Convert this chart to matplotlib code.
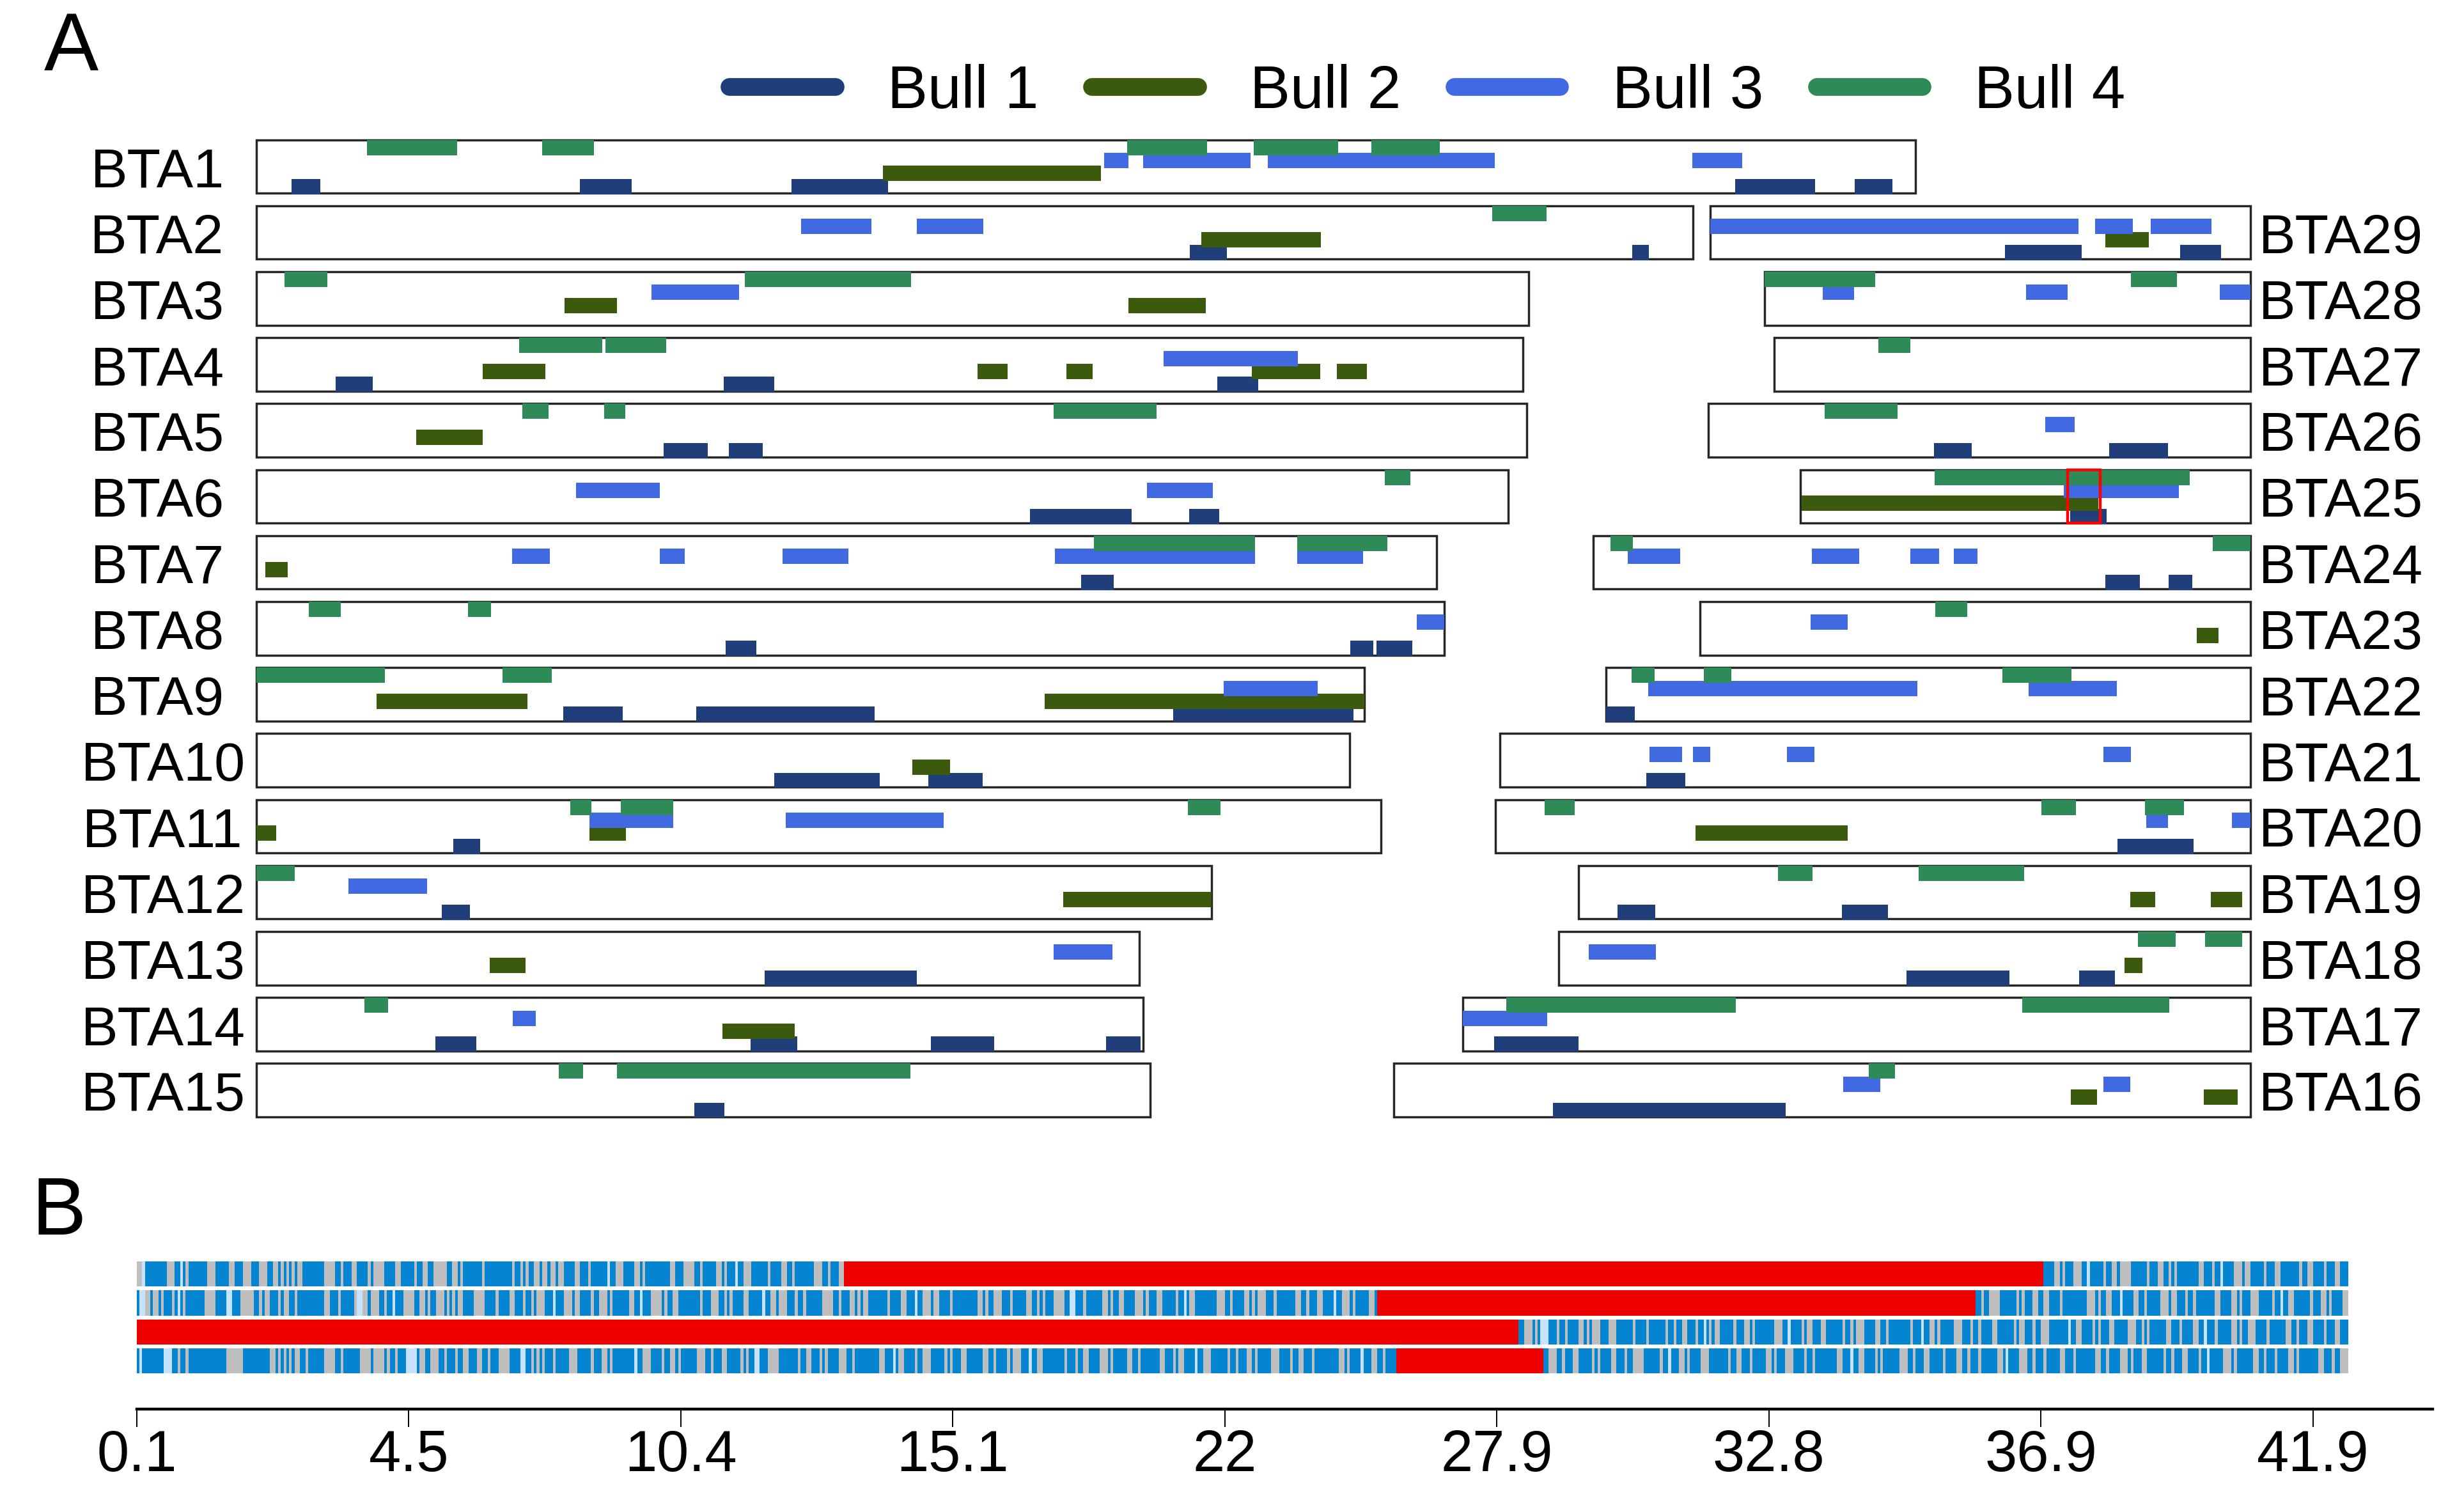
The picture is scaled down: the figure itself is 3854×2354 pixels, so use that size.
import re
import matplotlib
matplotlib.use('Agg')
import matplotlib.pyplot as plt
from matplotlib.lines import Line2D
from matplotlib.transforms import blended_transform_factory

plt.rcParams['font.family'] = ['Liberation Sans', 'DejaVu Sans']

# ---------------- data: panel A ----------------
chrom_names = [f'BTA{i}' for i in range(1, 30)]
chrom_lengths = [158.3, 137.06, 121.43, 120.83, 121.19, 119.46, 112.64, 113.38, 105.71,
                 104.31, 107.31, 91.16, 84.24, 84.65, 85.30, 81.72, 75.16, 66.00, 64.06,
                 72.04, 71.60, 61.44, 52.53, 62.71, 42.90, 51.68, 45.41, 46.31, 51.51]

bull_names = ['Bull 1', 'Bull 2', 'Bull 3', 'Bull 4']
bull_colors = ['#203f7a', '#3b5a0e', '#4169e1', '#2e8b57']

bull1_segments = {
    1: [(3.4, 6.1), (30.9, 35.8), (51.1, 60.3), (141.1, 148.7), (152.5, 156.1)],
    2: [(89.1, 92.6), (131.3, 132.9)],
    4: [(7.6, 11.1), (44.6, 49.4), (91.7, 95.6)],
    5: [(38.9, 43.1), (45.1, 48.3)],
    6: [(73.8, 83.5), (89.0, 91.9)],
    7: [(78.7, 81.8)],
    8: [(44.8, 47.7), (104.4, 106.6), (106.9, 110.3)],
    9: [(29.3, 35.0), (42.0, 59.0), (87.5, 104.7)],
    10: [(49.4, 59.5), (64.1, 69.3)],
    11: [(18.8, 21.4)],
    12: [(17.7, 20.4)],
    13: [(48.5, 63.0)],
    14: [(17.1, 21.0), (47.2, 51.6), (64.4, 70.4), (81.1, 84.4)],
    15: [(41.8, 44.7)],
    16: [(15.2, 37.4)],
    17: [(3.0, 11.1)],
    18: [(33.2, 43.0), (49.7, 53.1)],
    19: [(3.7, 7.3), (25.1, 29.5)],
    20: [(59.4, 66.6)],
    21: [(14.0, 17.7)],
    22: [(0.0, 2.7)],
    24: [(48.9, 52.2), (54.9, 57.2)],
    25: [(25.7, 29.2)],
    26: [(21.5, 25.1), (38.2, 43.8)],
    29: [(28.1, 35.4), (44.8, 48.7)],
}
bull2_segments = {
    1: [(59.8, 80.6)],
    2: [(90.2, 101.6)],
    3: [(29.4, 34.4), (83.2, 90.6)],
    4: [(21.6, 27.6), (68.8, 71.7), (77.3, 79.8), (95.0, 101.5), (103.1, 106.0)],
    5: [(15.3, 21.6)],
    7: [(0.9, 3.0)],
    9: [(11.5, 25.9), (75.2, 105.7)],
    10: [(62.6, 66.2)],
    11: [(0.0, 1.9), (31.8, 35.3)],
    12: [(77.0, 91.16)],
    13: [(22.3, 25.7)],
    14: [(44.5, 51.4)],
    16: [(64.6, 67.1), (77.3, 80.5)],
    18: [(54.0, 55.7)],
    19: [(52.6, 55.0), (60.3, 63.3)],
    20: [(19.1, 33.6)],
    23: [(47.4, 49.5)],
    25: [(0.1, 28.4)],
    29: [(37.7, 41.8)],
}
bull3_segments = {
    1: [(80.9, 83.2), (84.6, 94.9), (96.5, 118.2), (137.0, 141.8)],
    2: [(52.0, 58.7), (63.0, 69.4)],
    3: [(37.7, 46.1)],
    4: [(86.6, 99.4)],
    6: [(30.5, 38.5), (85.0, 91.3)],
    7: [(24.4, 28.0), (38.5, 40.9), (50.2, 56.5), (76.2, 95.3), (99.3, 105.6)],
    8: [(110.7, 113.38)],
    9: [(92.3, 101.3)],
    11: [(31.8, 39.8), (50.5, 65.6)],
    12: [(8.8, 16.3)],
    13: [(76.1, 81.7)],
    14: [(24.5, 26.7)],
    16: [(42.9, 46.4), (67.7, 70.3)],
    17: [(0.0, 8.1)],
    18: [(2.9, 9.3)],
    20: [(62.1, 64.2), (70.3, 72.04)],
    21: [(14.3, 17.4), (18.4, 20.1), (27.4, 30.0), (57.6, 60.2)],
    22: [(4.0, 29.7), (40.3, 48.7)],
    23: [(10.6, 14.1)],
    24: [(3.3, 8.3), (20.9, 25.4), (30.3, 33.0), (34.4, 36.7)],
    25: [(25.1, 36.1)],
    26: [(32.1, 34.9)],
    28: [(5.5, 8.5), (24.9, 28.9), (43.4, 46.31)],
    29: [(0.0, 35.1), (36.7, 40.3), (42.0, 47.8)],
}
bull4_segments = {
    1: [(10.6, 19.2), (27.3, 32.2), (83.1, 90.7), (95.2, 103.2), (106.4, 112.9)],
    2: [(117.9, 123.1)],
    3: [(2.7, 6.8), (46.6, 62.5)],
    4: [(25.1, 33.0), (33.3, 39.1)],
    5: [(25.4, 27.9), (33.2, 35.2), (76.1, 85.9)],
    6: [(107.7, 110.1)],
    7: [(79.9, 95.3), (99.3, 107.9)],
    8: [(5.0, 8.1), (20.2, 22.4)],
    9: [(0.0, 12.3), (23.5, 28.2)],
    11: [(30.0, 32.0), (34.8, 39.8), (88.9, 92.0)],
    12: [(0.0, 3.7)],
    14: [(10.3, 12.6)],
    15: [(28.9, 31.2), (34.4, 62.4)],
    16: [(45.3, 47.8)],
    17: [(4.2, 26.1), (53.4, 67.4)],
    18: [(55.3, 58.9), (61.7, 65.2)],
    19: [(19.0, 22.3), (32.4, 42.5)],
    20: [(4.7, 7.6), (52.1, 55.4), (62.0, 65.7)],
    22: [(2.4, 4.6), (9.3, 11.9), (37.8, 44.4)],
    23: [(22.5, 25.5)],
    24: [(1.7, 3.8), (59.1, 62.71)],
    25: [(12.8, 37.1)],
    26: [(11.1, 18.0)],
    27: [(9.9, 13.0)],
    28: [(0.0, 10.5), (34.9, 39.3)],
}
bull_segments = [bull1_segments, bull2_segments, bull3_segments, bull4_segments]

highlight_chrom = 25
highlight_region = (25.5, 28.6)

# ---------------- data: panel B ----------------
tick_markers = [0, 100, 200, 300, 400, 500, 600, 700, 800]
tick_positions_mb = [0.1, 4.5, 10.4, 15.1, 22, 27.9, 32.8, 36.9, 41.9]
n_markers = 813
shared_runs = [(260, 701), (456, 676), (0, 508), (463, 517)]   # red (ROH) runs, marker index

row1_pattern = ("g2l1b8g3b2l1b1g1b7g3b5g2b3g3b3g3b2g2b1g1b1g1b1g1b1g2b8g4b2g1b3g2b4g1b1g4"
                "b4g2b5g1b2g2b2g5b2g2b1g1b7g1b10g1b2g1b1g1b2g2b1g2b1g2b1g2b4"
                "g2b3g1b6l1b2g3b4g2b1g1b9g2b3g4b2g1b5g2b1g1b3l1b2g3b6g1b4g2b2g1b7g3b2g1b3g2"
                "b4g2b1g1b3g3b2l1b5g1b2g2b1g4b6g1b3g2b2g1b1g1b8g2b3g1b2l1b4g3b1g2b5g1b3g2b7"
                "g1b2g2b4g1b3g2b6g2b3")
row2_pattern = ("b1l2g2b1g2b1g1b3g1b1l1b1g1b7g4b4l2b3g5b2g1b1g2b3g1b1g2b2g1b10g2b3g1b5g1l2"
                "g2b1g3b2g1b2l1b3g4b2g2b1g1b2g3b1g1b1g1b1g2b4g4b4g1b4g2b3g1b2g1b1g3b3l1b3g3b1"
                "g2b4g1b2g3b1g1b6g2b2l1b3g4b1g1b2g2b8g1b3g3b2g1b1g1b4g2b5l1b2g2b1g3b3g1b2g1b6"
                "g4b2g1b3g2b1g1b1g2b7g1b4g2b3l1b2g3b1g2b4g1b9g2b1g1b2g3b3g1b5g2b2g1b1g1b3g4b2"
                "l2b3g1b6g2b1g1b2g2b4g3b1g1b3g2b5g1b2l1b1g2b8g3b2g1b4g2b1g1b1g3b3g1b7g2b2g1b3"
                "g2b4l1b2g3b1g1b5g2b3g1b2g4b6g1b1g1b3g2b2g2b4g1b9g3b1g1b2g2b3l1b4g2b2g1b5g3b1"
                "g2b3g1b2g1b7g2b4g2b1g1b3g3b5g1b2l1b2g2b6g1b3g2b1g1b4g3b2g1b8g2b3g1b1g2b5g4b2"
                "g1b3")
row3_pattern = ("b2g3b1g1b1l3b3g1b2g1b4g2b1g1b1g3b3g3b6g1b4g1b6g1b2g1b2g2b3g1b2l1b1g1b1g2b5"
                "g1b3g2b1g1b7g3b2l1b4g1b1g2b3g2b6g1b2g1b1g3b4g2b2g1b8g1b3l1b2g2b1g1b5g3b3g1b2"
                "g1b4g2b6g1b1g2b3g1b2g3b7l1b2g2b4g1b1g1b3g2b5g3b2g1b1g1b6g2b3g1b4g2b2l1b3g1b5"
                "g2b1g1b2g3b4g1b6g2b2g1b3g2b4g1b3g2b5g1b2")
row4_pattern = ("b1l1b8l3b2g1b2g1b14g6b10g2b1g1b1g1b1g1b1g2b2g1b6g4b2g1b6g4b1g4b1g1b2g1b3l4"
                "b1g2b2g3b2g1b3g1b2g2b3g2b2g1b3g4b4l2b2g1b1g1b1g1b3g1b5g1"
                "g2b5g1b3g2b1g1b8l1b2g3b4g1b2g2b1g1b6g3b2g1b3g2b5g1b1g1b2l2b3g4b7g1b2g2b3g1b1"
                "g1b4g3b2g1b9g2b3l1b1g2b4g1b2g3b5g1b1g1b3g2b6g2b2g1b4g1b1g3b3l1b2g2b8g1b3g1b2"
                "g2b4g3b1g1b5g2b2g1b7g2b3g1b1g2b4l1b2g3b6g1b2g1b3g2b1g1b5g3b4g1b2g2b3g1b9g2b1"
                "g1b4l1b3g2b2g1b6g3b2g1b3g2b5g1b1g1b4g2b3g1b2g4b6g1b2l1b3g2b1g1b4g3b7g1b2g2b3"
                "g1b5g2b1g1b3g3b4g1b2g1b8g2b3l1b2g2b4g1b1g1b6g3b2g1b3g2b5g1b4g2b2g1b3g1b6g2b1"
                "l1b4g3b2g1b3g1b5g2b3g1b7g2b2g1b4g3b1g1b3g2b6g1b2"
                "g1b3g2b4g1b2l1b5g3b1g1b6g2b2g1b3g1b4g2b1g1b7g2b3g1b2g3b4g1b5g2b2")
row_patterns = [row1_pattern, row2_pattern, row3_pattern, row4_pattern]
cell_colors = {'b': '#0484d1', 'g': '#bebebe', 'l': '#c6e2ff'}
shared_color = '#ee0000'

# ---------------- figure ----------------
W, H = 1568.0, 958.0          # layout reference grid
fig = plt.figure(figsize=(19.27, 11.77), dpi=200)

# ---- Panel A ----
XR = 190.25
axa = fig.add_axes([163 / W, 1 - 711 / H, 1269 / W, 622 / H])
axa.set_xlim(0, XR)
axa.set_ylim(14.405, -0.405)
axa.axis('off')

box_h = 0.81
lane_step = 0.1976
bar_h = 0.231


def chrom_layout(c):
    L = chrom_lengths[c - 1]
    if c <= 15:
        return c - 1, 0.0
    return 30 - c, XR - L


for c in range(1, 30):
    row, x0 = chrom_layout(c)
    axa.barh(row, chrom_lengths[c - 1], left=x0, height=box_h, fill=False,
             edgecolor='#262626', linewidth=1.25, zorder=1, clip_on=False)

for b in range(4):
    lane = 3 - b
    ys, ws, ls = [], [], []
    for c, segs in bull_segments[b].items():
        row, x0 = chrom_layout(c)
        yc = row - box_h / 2 + lane * lane_step + bar_h / 2
        for s, e in segs:
            ys.append(yc)
            ws.append(e - s)
            ls.append(x0 + s)
    axa.barh(ys, ws, left=ls, height=bar_h, color=bull_colors[b], linewidth=0,
             zorder=2 + b, clip_on=False)

row, x0 = chrom_layout(highlight_chrom)
axa.barh(row, highlight_region[1] - highlight_region[0], left=x0 + highlight_region[0],
         height=box_h, fill=False, edgecolor='#ff0000', linewidth=1.6, zorder=10, clip_on=False)

trans = blended_transform_factory(fig.transFigure, axa.transData)
left_labels = []
for c in range(1, 30):
    row, x0 = chrom_layout(c)
    if c <= 15:
        t = fig.text(83.3 / W, row + 0.31, chrom_names[c - 1], transform=trans,
                     ha='left', va='baseline', fontsize=31)
        left_labels.append(t)
    else:
        fig.text(1437.2 / W, row + 0.31, chrom_names[c - 1], transform=trans,
                 ha='left', va='baseline', fontsize=31)

handles = [Line2D([0], [0], color=col, lw=10, solid_capstyle='round') for col in bull_colors]
fig.legend(handles, bull_names, loc='center', bbox_to_anchor=(908.5 / W, 1 - 59 / H),
           ncol=4, frameon=False, fontsize=34, handlelength=1.75, handletextpad=0.86,
           columnspacing=0.89, borderpad=0, borderaxespad=0)

fig.text(0.0179, 0.9534, 'A', fontsize=46, ha='left', va='baseline')
fig.text(0.0128, 0.1795, 'B', fontsize=46, ha='left', va='baseline')

# ---- Panel B ----
axb = fig.add_axes([87 / W, 1 - 897 / H, 1461 / W, 97 / H])
axb.set_xlim(0, 844)
axb.set_ylim(4.674, -0.598)
row_h = 0.87

for r in range(4):
    seq = ''.join(col * int(n) for col, n in re.findall(r'([bgl])(\d+)', row_patterns[r]))
    rs, rend = shared_runs[r]
    intervals = [(0, rs), (rend, n_markers)]
    pos = 0
    cells = {k: [] for k in cell_colors}
    for a, bnd in intervals:
        if bnd <= a:
            continue
        chunk = seq[pos:pos + (bnd - a)]
        pos += bnd - a
        i = 0
        while i < len(chunk):
            j = i
            while j < len(chunk) and chunk[j] == chunk[i]:
                j += 1
            cells[chunk[i]].append((a + i, j - i))
            i = j
    for k, v in cells.items():
        if v:
            axb.broken_barh(v, (r - row_h / 2, row_h), facecolors=cell_colors[k],
                            edgecolor='none', linewidth=0)
    axb.broken_barh([(rs, rend - rs)], (r - row_h / 2, row_h), facecolors=shared_color,
                    edgecolor='none', linewidth=0)

for sp in ['top', 'left', 'right']:
    axb.spines[sp].set_visible(False)
axb.spines['bottom'].set_linewidth(1.6)
axb.set_yticks([])
axb.set_xticks(tick_markers)
axb.set_xticklabels([f'{v:g}' for v in tick_positions_mb])
axb.tick_params(axis='x', length=10, width=0.7, labelsize=32.5, pad=1)

# fractional horizontal anchoring of left chromosome labels
fig.canvas.draw()
rend_ = fig.canvas.get_renderer()
fig_w_px = fig.get_figwidth() * fig.dpi
for t in left_labels:
    w = t.get_window_extent(rend_).width / fig_w_px
    x, y = t.get_position()
    t.set_position((83.3 / W - 0.303 * w, y))

fig.savefig('out.png', dpi=200)
